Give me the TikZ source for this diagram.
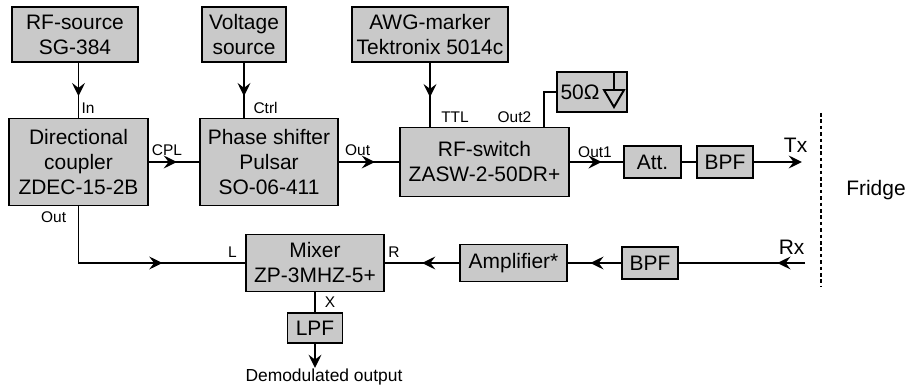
\documentclass[tikz,border=0pt]{standalone}
\usepackage{fontspec}
\setmainfont{Liberation Sans}
\usetikzlibrary{arrows.meta, calc, decorations.markings}

\begin{document}
\begin{tikzpicture}[
  every node/.style={font=\fontsize{14.9}{17.8}\selectfont},
  blk/.style={draw, fill=black!21, line width=1.4pt, inner sep=1pt, align=center},
  pin/.style={font=\fontsize{11}{13}\selectfont, inner sep=0pt},
  wire/.style={line width=1.4pt},
  arr/.style={line width=1.4pt, -{Stealth[length=3.3mm,width=3.2mm,inset=1.2mm]}},
  midarr/.style={line width=1.4pt, postaction={decorate},
    decoration={markings, mark=at position #1 with {\arrow{Stealth[length=3.3mm,width=3.2mm,inset=1.2mm]}}}},
  fence/.style={line width=1.1pt, dash pattern=on 0.09cm off 0.07cm}
]
  \useasboundingbox (0,0) rectangle (22.675,-9.675);

  % sources
  \node[blk, minimum width=3.15cm, minimum height=1.375cm] (rfsrc) at (1.875,-0.8625) {RF-source\\SG-384};
  \node[blk, minimum width=2.1cm, minimum height=1.375cm] (vsrc) at (6.1,-0.8625) {Voltage\\source};
  \node[blk, minimum width=3.9cm, minimum height=1.375cm] (awg) at (10.75,-0.8625) {AWG-marker\\Tektronix 5014c};

  % transmit chain
  \node[blk, minimum width=3.475cm, minimum height=2.175cm] (coupler) at (1.9625,-4.05) {Directional\\coupler\\ZDEC-15-2B};
  \node[blk, minimum width=3.45cm, minimum height=2.175cm] (phase) at (6.725,-4.05) {Phase shifter\\Pulsar\\SO-06-411};
  \node[blk, minimum width=4.225cm, minimum height=1.725cm] (switch) at (12.1125,-4.05) {RF-switch\\ZASW-2-50DR+};
  \node[blk, minimum width=1.75cm, minimum height=1cm] (load) at (14.8,-2.3) {};
  \node (loadtxt) at (14.5,-2.3) {50Ω};
  \node[blk, minimum width=1.425cm, minimum height=0.8cm] (att) at (16.3125,-4.05) {Att.};
  \node[blk, minimum width=1.4cm, minimum height=0.8cm] (bpftx) at (18.125,-4.05) {BPF};
  \coordinate (txend) at (20.05,-4.05);

  % receive chain
  \node[blk, minimum width=3.45cm, minimum height=1.425cm] (mixer) at (7.875,-6.575) {Mixer\\ZP-3MHZ-5+};
  \node[blk, minimum width=1.375cm, minimum height=0.75cm] (lpf) at (7.875,-8.2) {LPF};
  \node[blk, minimum width=2.675cm, minimum height=0.925cm] (amp) at (12.8375,-6.575) {Amplifier*};
  \node[blk, minimum width=1.4cm, minimum height=0.8cm] (bpfrx) at (16.25,-6.575) {BPF};
  \coordinate (rxstart) at (20.125,-6.575);
  \coordinate (demod) at (7.875,-9.2);

  % ground symbol of the load
  \draw[wire] ([xshift=0.55cm]load.north) -- ++(0,-0.475) coordinate (gnd);
  \draw[wire, line join=miter] ($(gnd)+(-0.25,0)$) -- ($(gnd)+(0.25,0)$) -- ($(gnd)+(0,-0.425)$) -- cycle;

  % connections
  \draw[midarr=0.61] (rfsrc.south -| coupler.north) -- (coupler.north);
  \draw[midarr=0.61] (vsrc.south) -- (vsrc.south |- phase.north);
  \draw[midarr=0.54] (awg.south) -- (awg.south |- switch.north);
  \draw[midarr=0.56] (coupler.east) -- (phase.west);
  \draw[midarr=0.6] (phase.east) -- (switch.west);
  \draw[wire] ([xshift=-0.65cm]switch.north east) |- (load.west);
  \draw[midarr=0.6] (switch.east) -- (att.west);
  \draw[wire] (att.east) -- (bpftx.west);
  \draw[arr] (bpftx.east) -- (txend);
  \draw[midarr=0.22] (rxstart) -- (bpfrx.east);
  \draw[midarr=0.58] (bpfrx.west) -- (amp.east);
  \draw[midarr=0.5] (amp.west) -- (mixer.east);
  \draw[midarr=0.63] (coupler.south) |- (mixer.west);
  \draw[wire] (mixer.south) -- (lpf.north);
  \draw[arr] (lpf.south) -- (demod);

  % port labels
  \node[pin] (lin) at (2.2,-2.7) {In};
  \node[pin] (lctrl) at (6.64,-2.7) {Ctrl};
  \node[pin] (lcpl) at (4.175,-3.75) {CPL};
  \node[pin] (lphout) at (8.94,-3.75) {Out};
  \node[pin] (lcpout) at (1.34,-5.425) {Out};
  \node[pin] (lttl) at (11.375,-2.925) {TTL};
  \node[pin] (lout2) at (12.86,-2.925) {Out2};
  \node[pin] (lout1) at (14.875,-3.8) {Out1};
  \node[pin] (ll) at (5.81,-6.3) {L};
  \node[pin] (lr) at (9.85,-6.3) {R};
  \node[pin] (lx) at (8.25,-7.55) {X};
  \node[font=\fontsize{12.4}{15}\selectfont, inner sep=0pt] (demodtxt) at (8.1,-9.425) {Demodulated output};

  % fridge boundary
  \node (ltx) at (19.89,-3.625) {Tx};
  \node (lrx) at (19.79,-6.175) {Rx};
  \draw[fence] (20.525,-2.825) -- (20.525,-7.175);
  \node (fridge) at (21.9,-4.75) {Fridge};
\end{tikzpicture}
\end{document}
